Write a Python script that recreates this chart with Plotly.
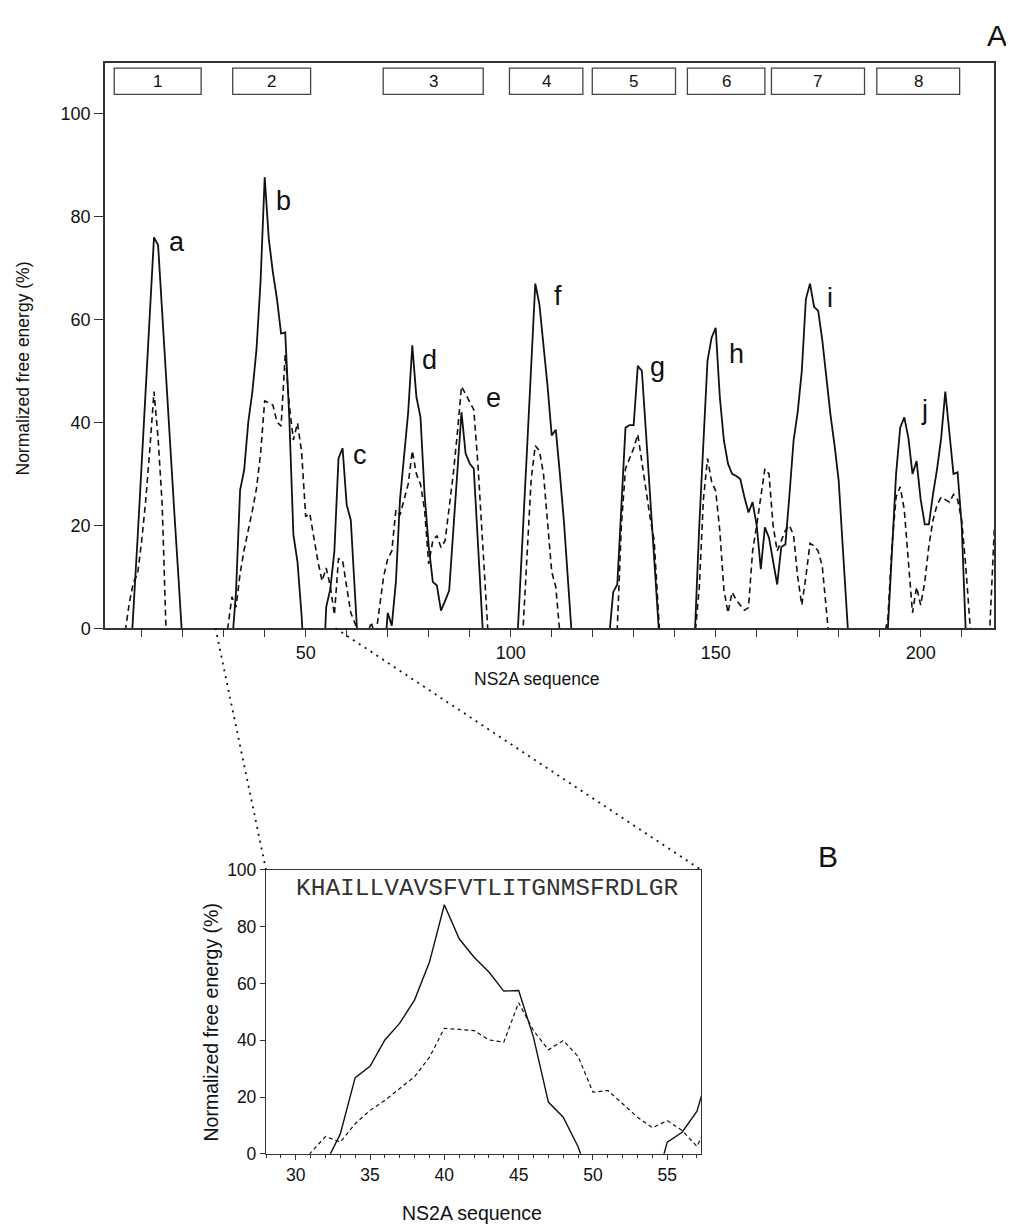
import plotly.graph_objects as go

W, H = 1014, 1226

# ---------------- data ----------------
residue = list(range(1, 219))

solid = [
    None, None, None, None, None, None, -10, 3, 17.5, 32,            # 1-10
    46.5, 61, 76, 74.5, 61, 48, 35, 22, 9.5, -3.5,                   # 11-20
    None, None, None, None, None, None, None, None, None, None,      # 21-30
    None, -3.5, 7, 26.8, 30.8, 40.1, 46, 54.2, 67.5, 87.7,           # 31-40
    75.7, 69.2, 64, 57.3, 57.5, 41, 18.2, 12.9, 2.5, -12,            # 41-50
    None, None, None, -15, 4.1, 7.6, 15, 33, 35, 24,                 # 51-60
    21, 7, -7, None, None, None, None, None, -8, 3,                  # 61-70
    0.5, 9, 25, 33, 42, 55, 45, 41, 26, 16,                          # 71-80
    9, 8.3, 3.4, 5.3, 7.3, 19, 30.5, 42, 34, 32,                     # 81-90
    31, 16, 2, -12, None, None, None, None, None, None,              # 91-100
    -12, 3, 19, 35, 51, 67, 63, 55, 47, 37.5,                        # 101-110
    38.6, 30, 20.6, 9, -2.5, None, None, None, None, None,           # 111-120
    None, None, None, -1.8, 7, 8.5, 24, 39, 39.5, 39.5,              # 121-130
    51, 50, 38, 25.6, 13.4, 1.2, -11, None, None, None,              # 131-140
    None, None, None, -15, 0.5, 20, 37, 52, 56.5, 58.4,              # 141-150
    45, 36.5, 32, 30, 29.6, 29, 25.5, 22.5, 24.5, 20,                # 151-160
    11.5, 19.6, 17.6, 13, 8.5, 15.8, 16.3, 26, 36.5, 42,             # 161-170
    50, 64, 67, 62.5, 61.7, 56, 48.5, 41.5, 35.5, 28.7,              # 171-180
    15.7, 2.6, -10, None, None, None, None, None, None, None,        # 181-190
    -15, 0.5, 16, 30, 39, 41, 37, 30, 32.5, 25,                      # 191-200
    20.2, 20.2, 26, 31, 37, 46, 38, 30, 30.3, 20,                    # 201-210
    -1, -15, None, None, None, None, None, None,                     # 211-218
]

dashed = [
    None, None, None, None, None, -0.5, 5, 9, 10.5, 17,              # 1-10
    25, 35, 46, 37, 24, -2, None, None, None, None,                  # 11-20
    None, None, None, None, None, None, None, None, None, -6,        # 21-30
    0.3, 6.1, 4.1, 10.6, 15.3, 18.8, 22.9, 27.2, 34, 44.2,           # 31-40
    43.8, 43.4, 40.1, 39.3, 53.2, 43.4, 36.6, 39.9, 34.3, 21.7,      # 41-50
    22.3, 17.6, 12.9, 9.2, 11.7, 8.2, 2.6, 13.5, 13.2, 8,            # 51-60
    3, 1, -1, -3, -1.5, 1.2, -2, 4, 10, 13.5,                        # 61-70
    15, 23, 22, 25, 28, 34.5, 30, 28, 23, 12.5,                      # 71-80
    17, 18, 15.7, 17, 23, 30, 38, 47, 45.5, 44,                      # 81-90
    42.5, 32, 18, 4, -8, None, None, None, None, None,               # 91-100
    None, -15, -1, 13, 29, 35.5, 34.5, 30, 20, 11,                   # 101-110
    8, -1, None, None, None, None, None, None, None, None,           # 111-120
    None, None, None, None, -20, 0.5, 20, 31, 33, 35,                # 121-130
    37.7, 32, 27, 21.5, 17, 1, -10, None, None, None,                # 131-140
    None, None, None, -10, -1, 8, 25, 33, 28.5, 26.7,                # 141-150
    19, 7.5, 3, 7, 5.5, 4.5, 3.5, 4, 15, 20,                         # 151-160
    26, 31, 30, 20, 15, 17, 19, 20, 18, 10,                          # 161-170
    4.5, 10, 16.5, 16, 15, 12, 4, -5, None, None,                    # 171-180
    None, None, None, None, None, None, None, None, None, -10,       # 181-190
    -2, 2, 16, 25.5, 27.5, 23, 12, 3, 8, 4.5,                        # 191-200
    9, 16, 21, 24, 25.5, 25, 24.5, 26, 25, 21,                       # 201-210
    12, 1, -10, None, None, -15, 3, 20,                              # 211-218
]

segment_labels = ["1", "2", "3", "4", "5", "6", "7", "8"]
segment_start = [3.3, 32.2, 68.9, 99.7, 119.9, 143.1, 163.6, 189.3]
segment_end = [24.5, 51.2, 93.3, 117.6, 140.2, 162.0, 186.3, 209.5]

peak_labels = ["a", "b", "c", "d", "e", "f", "g", "h", "i", "j"]
peak_label_x = [18.5, 44.5, 63.2, 80.1, 95.7, 111.5, 135.9, 155.0, 177.9, 201.0]
peak_label_y = [75.1, 83.0, 33.7, 52.2, 44.8, 64.5, 50.8, 53.3, 64.2, 42.4]

sequence_text = "KHAILLVAVSFVTLITGNMSFRDLGR"
zoom_range = [28, 57.27]

# ---------------- layout geometry (page pixels -> paper) ----------------
PAGE_X0, PAGE_Y0, PAPER_H = 8, 17.5, 1206.0   # where the paper lands in the page


def px(x):
    return (x - PAGE_X0) / W


def py(y):
    return 1 - (y - PAGE_Y0) / PAPER_H


A_xdom = [px(105), px(994)]
A_ydom = [py(627.7), py(62)]
A_xrange = [1.05, 217.88]
A_yrange = [0, 110]
B_xdom = [px(266), px(701)]
B_ydom = [py(1153.3), py(869.3)]
B_yrange = [0, 100]

INK = "#111111"
AX = "#333333"
FONT = "Liberation Sans, Arial, sans-serif"

fig = go.Figure()

# Panel A
fig.add_trace(go.Scatter(x=residue, y=solid, mode="lines", xaxis="x", yaxis="y",
                         line=dict(color=INK, width=1.8), connectgaps=False,
                         showlegend=False, hoverinfo="skip"))
fig.add_trace(go.Scatter(x=residue, y=dashed, mode="lines", xaxis="x", yaxis="y",
                         line=dict(color=INK, width=1.6, dash="6px,4px"), connectgaps=False,
                         showlegend=False, hoverinfo="skip"))
# Panel B (zoom of the same data)
fig.add_trace(go.Scatter(x=residue, y=solid, mode="lines", xaxis="x2", yaxis="y2",
                         line=dict(color=INK, width=1.4), connectgaps=False,
                         showlegend=False, hoverinfo="skip"))
fig.add_trace(go.Scatter(x=residue, y=dashed, mode="lines", xaxis="x2", yaxis="y2",
                         line=dict(color=INK, width=1.2, dash="4px,3px"), connectgaps=False,
                         showlegend=False, hoverinfo="skip"))

axis_common = dict(showline=True, linecolor=AX, linewidth=1.5, mirror=True,
                   showgrid=False, zeroline=False, ticks="outside",
                   tickcolor=AX, tickwidth=1.2,
                   tickfont=dict(family=FONT, size=18, color="#111"))
b_axis = {**axis_common, "tickfont": dict(family=FONT, size=17.5, color="#111"), "linewidth": 1.3}

fig.update_layout(
    width=W, height=H,
    margin=dict(l=0, r=0, t=0, b=0),
    paper_bgcolor="white", plot_bgcolor="white",
    xaxis=dict(domain=A_xdom, range=A_xrange, anchor="y", tickmode="linear",
               tick0=0, dtick=50, ticklen=7,
               minor=dict(dtick=10, tick0=0, ticks="outside", ticklen=7,
                          tickcolor=AX, tickwidth=1.2),
               **axis_common),
    yaxis=dict(domain=A_ydom, range=A_yrange, anchor="x", tickmode="linear",
               tick0=0, dtick=20, ticklen=9, **axis_common),
    xaxis2=dict(domain=B_xdom, range=zoom_range, anchor="y2", tickmode="linear",
                tick0=0, dtick=5, ticklen=5,
                minor=dict(dtick=1, tick0=0, ticks="outside", ticklen=3,
                           tickcolor=AX, tickwidth=1),
                **b_axis),
    yaxis2=dict(domain=B_ydom, range=B_yrange, anchor="x2", tickmode="linear",
                tick0=0, dtick=20, ticklen=5, **b_axis),
)

shapes = []
annotations = []

# segment boxes along the top of panel A
for lab, s, e in zip(segment_labels, segment_start, segment_end):
    shapes.append(dict(type="rect", xref="x", yref="y", x0=s, x1=e, y0=103.8, y1=108.9,
                       line=dict(color="#444", width=1.3), fillcolor="white", layer="above"))
    annotations.append(dict(x=(s + e) / 2, y=106.35, xref="x", yref="y", text=lab,
                            showarrow=False, xanchor="center", yanchor="middle",
                            font=dict(family=FONT, size=17, color="#111")))

# peak letters
for lab, x, y in zip(peak_labels, peak_label_x, peak_label_y):
    annotations.append(dict(x=x, y=y, xref="x", yref="y", text=lab, showarrow=False,
                            xanchor="center", yanchor="middle",
                            font=dict(family=FONT, size=27, color="#111")))


# dotted connectors from the zoomed stretch of A to the corners of B
def a_paper_x(v):
    return A_xdom[0] + (v - A_xrange[0]) / (A_xrange[1] - A_xrange[0]) * (A_xdom[1] - A_xdom[0])


for v, bx in ((zoom_range[0], B_xdom[0]), (zoom_range[1], B_xdom[1])):
    shapes.append(dict(type="line", xref="paper", yref="paper",
                       x0=a_paper_x(v), y0=A_ydom[0], x1=bx, y1=B_ydom[1],
                       line=dict(color=INK, width=1.8, dash="2px,5px"), layer="above"))

# sequence in panel B
annotations.append(dict(x=(zoom_range[0] + zoom_range[1]) / 2 + 0.3, y=93.4, xref="x2", yref="y2",
                        text=sequence_text, showarrow=False, xanchor="center", yanchor="middle",
                        font=dict(family="Liberation Mono, Courier New, monospace", size=24.5,
                                  color="#333")))


def label(x, y, text, size, angle=0):
    return dict(x=px(x), y=py(y), xref="paper", yref="paper", text=text, textangle=angle,
                showarrow=False, xanchor="center", yanchor="middle",
                font=dict(family=FONT, size=size, color="#111"))


annotations += [
    label(22, 368, "Normalized free energy (%)", 17.5, -90),
    label(537, 678, "NS2A sequence", 17.5),
    label(210, 1022, "Normalized free energy (%)", 19.5, -90),
    label(472, 1212, "NS2A sequence", 19.5),
    label(997, 35, "A", 30),
    label(828, 856, "B", 30),
]

fig.update_layout(shapes=shapes, annotations=annotations)
fig.write_html("out.html")
